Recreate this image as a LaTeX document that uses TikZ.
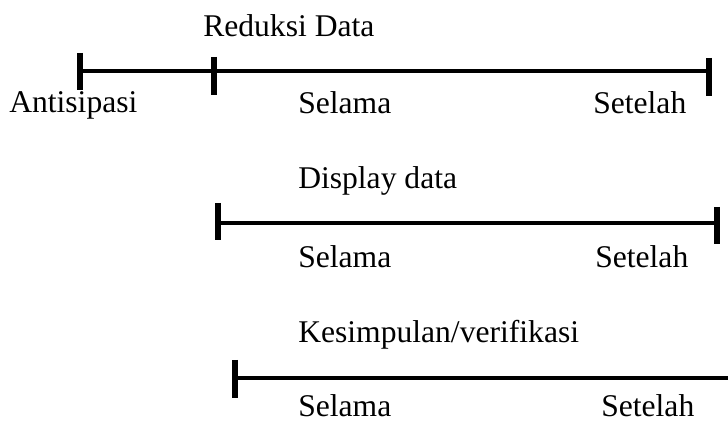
\documentclass[tikz,border=0pt]{standalone}
\usepackage{fontspec}
\setmainfont{Liberation Serif}
\usetikzlibrary{positioning}
\tikzset{
	timeline/.style={line width=3.6pt},
	stopline/.style={line width=3.9pt},
	lbl/.style={anchor=base west,inner sep=0pt,font=\fontsize{23.7}{28}\selectfont}
}

\begin{document}
\begin{tikzpicture}[x=0.75pt,y=-0.75pt]
	\useasboundingbox (0,0) rectangle (728,423);

	% reduksi data
	\node[lbl] (red) at (203,37) {Reduksi Data};
	\coordinate (a1) at (80,71);
	\coordinate (b1) at (214,71);
	\coordinate (c1) at (709,71);
	\draw[timeline] (a1) -- (c1);
	\draw[stopline] ([yshift=13.5pt]a1) -- ([yshift=-14.2pt]a1);
	\draw[stopline] ([yshift=10.5pt]b1) -- ([yshift=-18pt]b1);
	\draw[stopline] ([yshift=9.8pt]c1) -- ([yshift=-18.7pt]c1);
	\node[lbl] (ant) at (9,113) {Antisipasi};
	\node[lbl] (sel1) at (298,114) {Selama};
	\node[lbl] (set1) at (593,114) {Setelah};

	% display data
	\node[lbl] (dis) at (298,189) {Display data};
	\coordinate (a2) at (218,223);
	\coordinate (c2) at (717,223);
	\draw[timeline] (a2) -- (c2);
	\draw[stopline] ([yshift=15pt]a2) -- ([yshift=-12.8pt]a2);
	\draw[stopline] ([yshift=12pt]c2) -- ([yshift=-15.8pt]c2);
	\node[lbl] (sel2) at (298,268) {Selama};
	\node[lbl] (set2) at (595,268) {Setelah};

	% kesimpulan
	\node[lbl] (kes) at (298,343) {Kesimpulan/verifikasi};
	\coordinate (a3) at (235,378);
	\coordinate (c3) at (728,378);
	\draw[timeline] (a3) -- (c3);
	\draw[stopline] ([yshift=13.5pt]a3) -- ([yshift=-15pt]a3);
	\node[lbl] (sel3) at (298,417) {Selama};
	\node[lbl] (set3) at (601,417) {Setelah};
\end{tikzpicture}
\end{document}
